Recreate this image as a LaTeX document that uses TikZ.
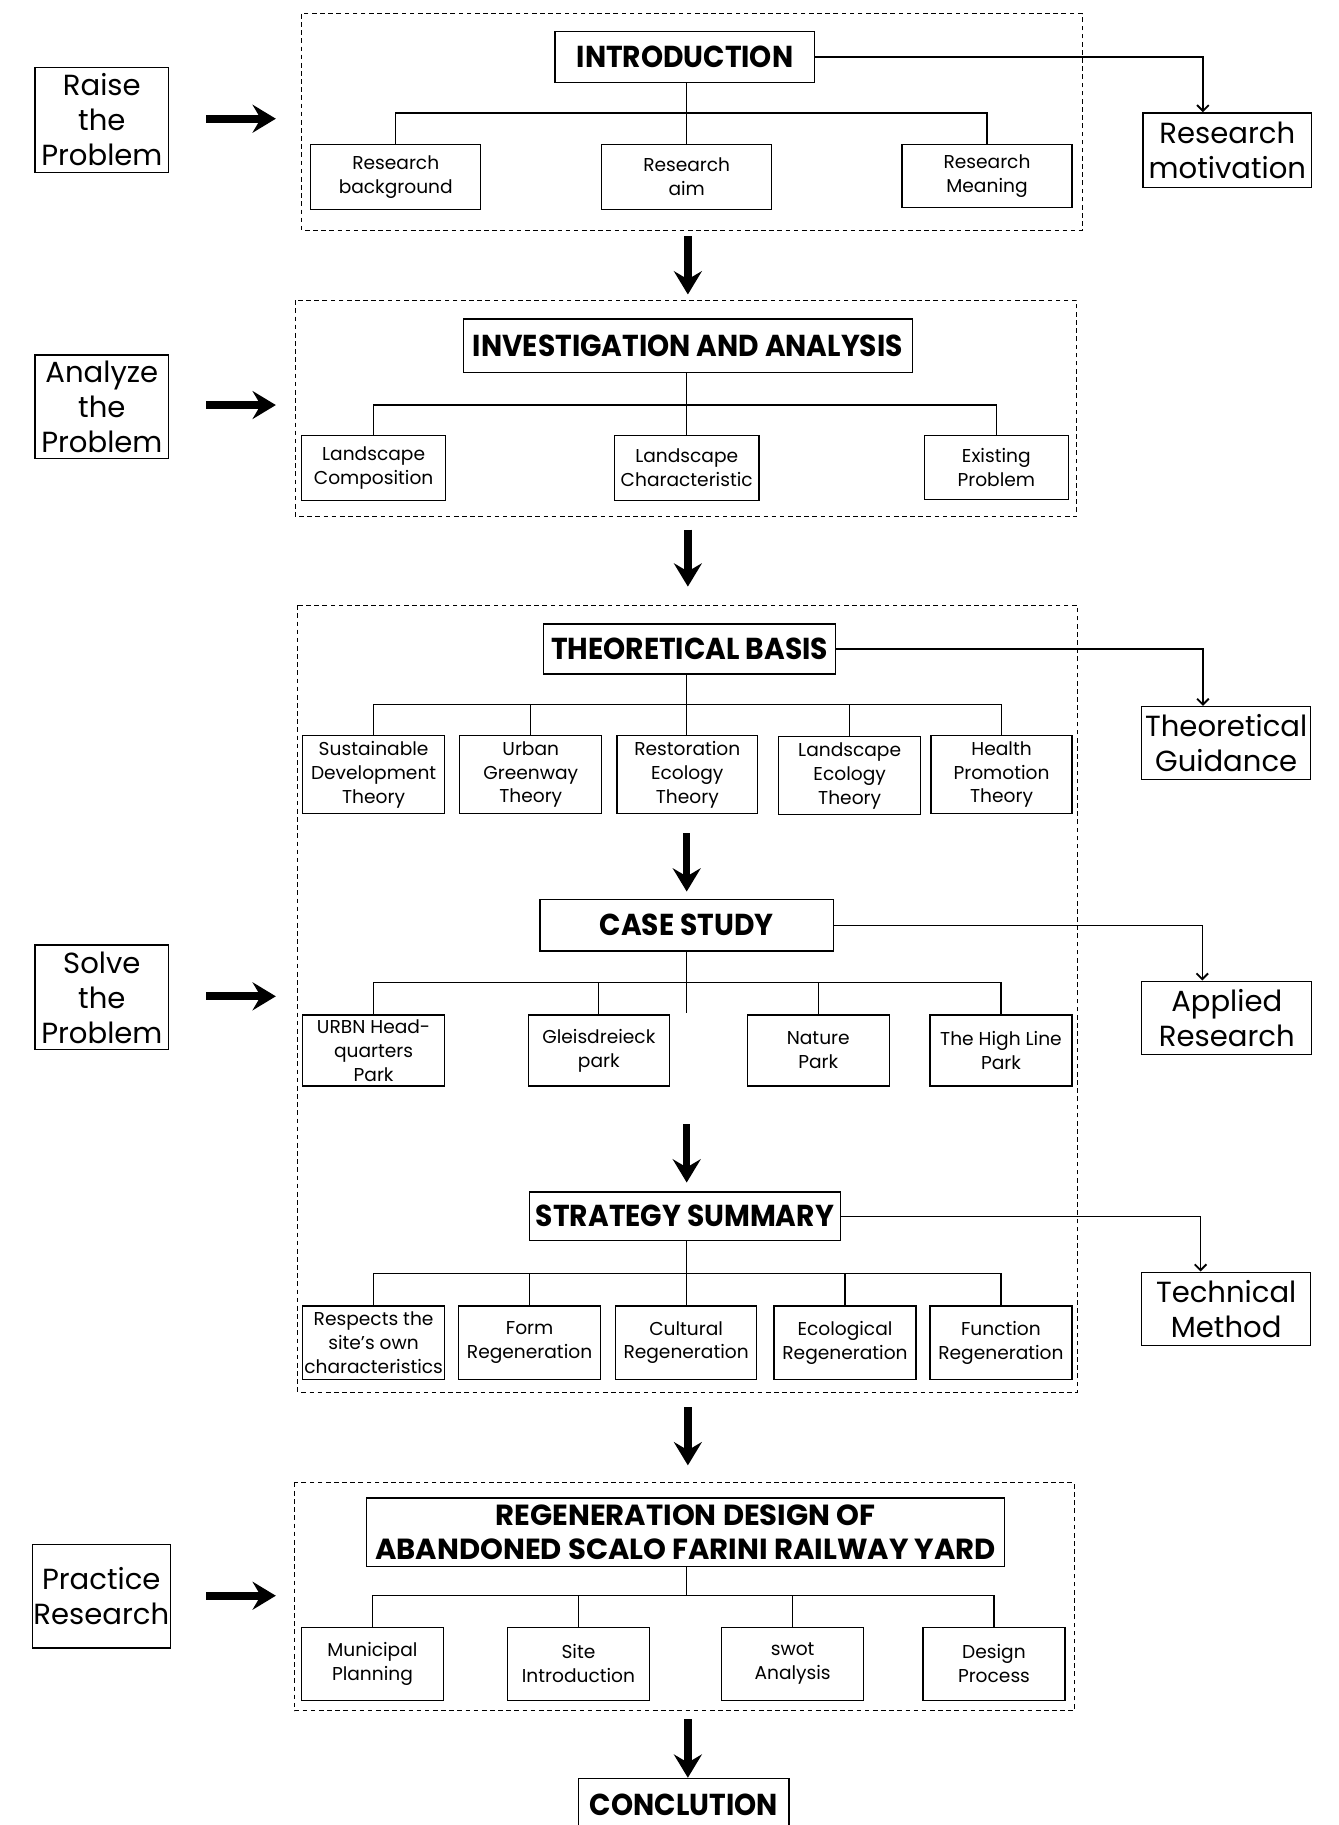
\documentclass[tikz,border=0pt]{standalone}
\usepackage{fontspec}
\setmainfont{Poppins}
\newfontfamily\headfont[FakeStretch=0.93]{Poppins}
\usetikzlibrary{arrows.meta}

\begin{document}
\begin{tikzpicture}[x=1pt,y=-1pt,
  sz/.style 2 args={minimum width=#1pt, minimum height=#2pt},
  box/.style={draw, line width=1.1pt, align=center, inner sep=1pt,
    font=\fontsize{16}{20.5}\selectfont},
  side/.style={draw, line width=1.1pt, align=center, inner sep=1pt,
    font=\fontsize{25}{30}\selectfont},
  head/.style={draw, line width=1.2pt, align=center, inner sep=2pt,
    font=\headfont\bfseries\fontsize{26}{30}\selectfont},
  frame/.style={line width=0.9pt, dash pattern=on 4pt off 3pt},
  link/.style={line width=1.1pt},
  sarrow/.style={link, -{Straight Barb[length=5pt, width=10pt, line width=1.6pt]}},
  bigright/.style={line width=7pt, -{Stealth[length=20pt, width=24pt, inset=7pt]}},
  bigdown/.style={line width=6.5pt, -{Stealth[length=20pt, width=24pt, inset=7pt]}}
]
\useasboundingbox (0,0) rectangle (1150,1568);

% ---------------- Introduction ----------------
\draw[frame] (259,12) rectangle (930,198);
\node[head, sz={223}{44}] (intro) at (588.5,49) {INTRODUCTION};
\node[box, sz={146}{56}] (rb) at (340,152) {Research\\background};
\node[box, sz={146}{56}] (ra) at (590,152) {Research\\aim};
\node[box, sz={146}{54}] (rm) at (848,151) {Research\\Meaning};
\node[side, sz={115}{90}] (raise) at (87.5,103) {Raise\\the\\Problem};
\node[side, sz={145}{64}] (rmot) at (1054.5,129) {Research\\motivation};
\coordinate (j1) at (590,97);
\draw[link] (intro.south -| j1) -- (j1) -- (ra.north);
\draw[link] (rb.north) |- (j1) -| (rm.north);
\draw[sarrow] (intro.east) -| ([xshift=-21pt]rmot.north);
\coordinate (a1s) at (177,102);
\coordinate (a1e) at (237,102);
\draw[bigright] (a1s) -- (a1e);
\coordinate (d1s) at (591,203);
\coordinate (d1e) at (591,253);
\draw[bigdown] (d1s) -- (d1e);

% ---------------- Investigation and analysis ----------------
\draw[frame] (254,258) rectangle (925,444);
\node[head, sz={386}{46}] (inv) at (591,297) {INVESTIGATION AND ANALYSIS};
\node[box, sz={124}{56}] (lc) at (321,402) {Landscape\\Composition};
\node[box, sz={124}{56}] (lch) at (590,402) {Landscape\\Characteristic};
\node[box, sz={124}{55}] (ep) at (856,401.5) {Existing\\Problem};
\node[side, sz={115}{89}] (analyze) at (87.5,349.5) {Analyze\\the\\Problem};
\coordinate (j2) at (590,348);
\draw[link] (inv.south -| j2) -- (j2) -- (lch.north);
\draw[link] (lc.north) |- (j2) -| (ep.north);
\coordinate (a2s) at (177,348);
\coordinate (a2e) at (237,348);
\draw[bigright] (a2s) -- (a2e);
\coordinate (d2s) at (591,455);
\coordinate (d2e) at (591,504);
\draw[bigdown] (d2s) -- (d2e);

% ---------------- Theoretical basis / case study / strategy ----------------
\draw[frame] (256,520) rectangle (926,1196);
\node[side, sz={115}{90}] (solve) at (87.5,857) {Solve\\the\\Problem};
\coordinate (a3s) at (177,856);
\coordinate (a3e) at (237,856);
\draw[bigright] (a3s) -- (a3e);

\node[head, sz={251}{43}] (tb) at (592.5,557.5) {THEORETICAL BASIS};
\node[side, sz={145}{63}] (tg) at (1053.5,638.5) {Theoretical\\Guidance};
\draw[sarrow] (tb.east) -| ([xshift=-20pt]tg.north);
\node[box, sz={122}{67}] (sdt) at (321,665.5) {Sustainable\\Development\\Theory};
\node[box, sz={122}{67}] (ugt) at (456,665.5) {Urban\\Greenway\\Theory};
\node[box, sz={121}{67}] (ret) at (590.5,665.5) {Restoration\\Ecology\\Theory};
\node[box, sz={122}{67}] (let) at (730,666.5) {Landscape\\Ecology\\Theory};
\node[box, sz={121}{67}] (hpt) at (860.5,665.5) {Health\\Promotion\\Theory};
\coordinate (j3) at (590,605);
\draw[link] (tb.south -| j3) -- (j3) -- (ret.north -| j3);
\draw[link] (sdt.north) |- (j3) -| (hpt.north);
\draw[link] (ugt.north) -- (ugt.north |- j3);
\draw[link] (let.north) -- (let.north |- j3);
\coordinate (d3s) at (590,716);
\coordinate (d3e) at (590,766);
\draw[bigdown] (d3s) -- (d3e);

\node[head, sz={252}{44}] (cs) at (590,795) {CASE STUDY};
\node[side, sz={146}{63}] (ar) at (1054,874.5) {Applied\\Research};
\draw[sarrow] (cs.east) -| ([xshift=-21pt]ar.north);
\node[box, sz={122}{61}] (urbn) at (321,902.5) {URBN Head-\\quarters\\Park};
\node[box, sz={121}{61}] (gp) at (514.5,902.5) {Gleisdreieck\\park};
\node[box, sz={122}{61}] (np) at (703,902.5) {Nature\\Park};
\node[box, sz={122}{61}] (hl) at (860,902.5) {The High Line\\Park};
\coordinate (j4) at (590,844);
\coordinate (j4e) at (590,870);
\draw[link] (cs.south -| j4) -- (j4e);
\draw[link] (urbn.north) |- (j4) -| (hl.north);
\draw[link] (gp.north) -- (gp.north |- j4);
\draw[link] (np.north) -- (np.north |- j4);
\coordinate (d4s) at (590,966);
\coordinate (d4e) at (590,1016);
\draw[bigdown] (d4s) -- (d4e);

\node[head, sz={267}{42}] (ss) at (588.5,1045) {STRATEGY SUMMARY};
\node[side, sz={145}{63}] (tm) at (1053.5,1124.5) {Technical\\Method};
\draw[sarrow] (ss.east) -| ([xshift=-22pt]tm.north);
\node[box, sz={122}{63}] (rs) at (321,1153.5) {Respects the\\site’s own\\characteristics};
\node[box, sz={122}{63}] (fr) at (455,1153.5) {Form\\Regeneration};
\node[box, sz={121}{63}] (cr) at (589.5,1153.5) {Cultural\\Regeneration};
\node[box, sz={122}{63}] (er) at (726,1153.5) {Ecological\\Regeneration};
\node[box, sz={122}{63}] (fnr) at (860,1153.5) {Function\\Regeneration};
\coordinate (j5) at (590,1094);
\draw[link] (ss.south -| j5) -- (j5) -- (cr.north -| j5);
\draw[link] (rs.north) |- (j5) -| (fnr.north);
\draw[link] (fr.north) -- (fr.north |- j5);
\draw[link] (er.north) -- (er.north |- j5);
\coordinate (d5s) at (591,1209);
\coordinate (d5e) at (591,1259);
\draw[bigdown] (d5s) -- (d5e);

% ---------------- Regeneration design ----------------
\draw[frame] (253,1274) rectangle (923,1470);
\node[head, sz={548}{59}, font=\bfseries\fontsize{25}{29}\selectfont]
  (rg) at (589,1316.5) {REGENERATION DESIGN OF\\ABANDONED SCALO FARINI RAILWAY YARD};
\node[box, sz={122}{63}] (mp) at (320,1429.5) {Municipal\\Planning};
\node[box, sz={122}{63}] (si) at (497,1429.5) {Site\\Introduction};
\node[box, sz={122}{63}] (sw) at (681,1429.5) {swot\\Analysis};
\node[box, sz={122}{63}] (dp) at (854,1429.5) {Design\\Process};
\node[side, sz={116}{89}] (practice) at (87,1371.5) {Practice\\Research};
\coordinate (j6) at (590,1371);
\draw[link] (rg.south -| j6) -- (j6);
\draw[link] (mp.north) |- (j6) -| (dp.north);
\draw[link] (si.north) -- (si.north |- j6);
\draw[link] (sw.north) -- (sw.north |- j6);
\coordinate (a4s) at (177,1371);
\coordinate (a4e) at (237,1371);
\draw[bigright] (a4s) -- (a4e);

% ---------------- Conclusion ----------------
\node[head, sz={181}{46}] (concl) at (587.5,1551) {CONCLUTION};
\coordinate (d6s) at (591,1477);
\draw[bigdown] (d6s) -- (concl.north -| d6s);
\end{tikzpicture}
\end{document}
